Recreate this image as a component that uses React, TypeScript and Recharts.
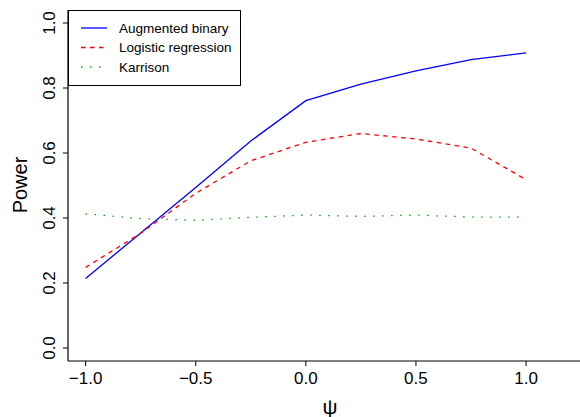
import React from 'react';
import { LineChart, Line, XAxis, YAxis, Legend, Label } from 'recharts';

// values
const psi = [-1, -0.75, -0.5, -0.25, 0, 0.25, 0.5, 0.75, 1];
const augmented = [0.214, 0.354, 0.494, 0.637, 0.761, 0.812, 0.853, 0.887, 0.908];
const logistic = [0.248, 0.353, 0.476, 0.576, 0.633, 0.66, 0.643, 0.615, 0.518];
const karrison = [0.413, 0.398, 0.393, 0.402, 0.409, 0.405, 0.409, 0.403, 0.403];

const xTicks = [-1, -0.5, 0, 0.5, 1];
const yTicks = [0, 0.2, 0.4, 0.6, 0.8, 1];

const seriesNames = ['Augmented binary', 'Logistic regression', 'Karrison'];

const FONT = '"Liberation Sans", Arial, Helvetica, sans-serif';
const BLUE = '#0000ff';
const RED = '#ff0000';
const GREEN = '#009a00';

const data = psi.map((p, i) => ({
  psi: p,
  augmented: augmented[i],
  logistic: logistic[i],
  karrison: karrison[i],
}));

const fmt = (v: number) => v.toFixed(1).replace('-', '\u2212');

const YTick = (props: any) => {
  const { y, payload } = props;
  return (
    <text
      x={49}
      y={y}
      transform={`rotate(-90, 49, ${y})`}
      textAnchor="middle"
      dominantBaseline="central"
      fontSize={17}
      fontFamily={FONT}
      fill="#000"
    >
      {fmt(payload.value)}
    </text>
  );
};

const LegendBox = () => {
  const styles = [
    { color: BLUE, dash: undefined },
    { color: RED, dash: '4.5 4.5' },
    { color: GREEN, dash: '1.4 7.6' },
  ];
  return (
    <svg width={174} height={76} style={{ display: 'block' }}>
      <rect x={0.5} y={0.5} width={172} height={75} fill="#fff" stroke="#000" strokeWidth={1} />
      {seriesNames.map((name, i) => {
        const cy = 18 + i * 19.5;
        return (
          <g key={name}>
            <line x1={13} x2={39} y1={cy} y2={cy} stroke={styles[i].color} strokeWidth={1.3} strokeDasharray={styles[i].dash} />
            <text x={51} y={cy} dominantBaseline="central" fontSize={13.5} fontFamily={FONT} fill="#000">
              {name}
            </text>
          </g>
        );
      })}
    </svg>
  );
};

export default function App() {
  return (
    <div style={{ position: 'absolute', left: 0, top: 0, width: 580, height: 417, background: '#fff', overflow: 'hidden' }}>
      <LineChart width={580} height={417} data={data} margin={{ top: 10, right: 0, bottom: 0, left: 0 }}>
        <XAxis
          dataKey="psi"
          type="number"
          domain={[-1.08, 1.245]}
          allowDataOverflow
          ticks={xTicks}
          tickFormatter={fmt}
          height={56}
          tickSize={5}
          tickMargin={6}
          interval={0}
          axisLine={{ stroke: '#000', strokeWidth: 1.2 }}
          tickLine={{ stroke: '#000' }}
          tick={{ fill: '#000', fontSize: 17, fontFamily: FONT }}
        >
          <Label
            content={() => (
              <text x={330} y={406} textAnchor="middle" dominantBaseline="central" fontSize={21} fontFamily={FONT} fill="#000">
                ψ
              </text>
            )}
          />
        </XAxis>
        <XAxis
          xAxisId="top"
          orientation="top"
          dataKey="psi"
          type="number"
          domain={[-1.08, 1.245]}
          allowDataOverflow
          height={0}
          tick={false}
          tickLine={false}
          axisLine={{ stroke: '#000', strokeWidth: 1.2 }}
        />
        <YAxis
          type="number"
          domain={[-0.04, 1.04]}
          allowDataOverflow
          ticks={yTicks}
          width={68}
          tickSize={5}
          interval={0}
          axisLine={{ stroke: '#000', strokeWidth: 1.2 }}
          tickLine={{ stroke: '#000' }}
          tick={<YTick />}
        >
          <Label
            content={() => (
              <text
                x={20}
                y={185}
                transform="rotate(-90, 20, 185)"
                textAnchor="middle"
                dominantBaseline="central"
                fontSize={20}
                fontFamily={FONT}
                fill="#000"
              >
                Power
              </text>
            )}
          />
        </YAxis>
        <Legend
          layout="vertical"
          align="center"
          verticalAlign="middle"
          wrapperStyle={{ position: 'absolute', left: 68, top: 10, width: 174, height: 76 }}
          content={() => <LegendBox />}
        />
        <Line dataKey="augmented" name={seriesNames[0]} type="linear" stroke={BLUE} strokeWidth={1.3} dot={false} isAnimationActive={false} />
        <Line dataKey="logistic" name={seriesNames[1]} type="linear" stroke={RED} strokeWidth={1.3} strokeDasharray="4.5 4.5" dot={false} isAnimationActive={false} />
        <Line dataKey="karrison" name={seriesNames[2]} type="linear" stroke={GREEN} strokeWidth={1.3} strokeDasharray="1.4 7.6" dot={false} isAnimationActive={false} />
      </LineChart>
    </div>
  );
}
